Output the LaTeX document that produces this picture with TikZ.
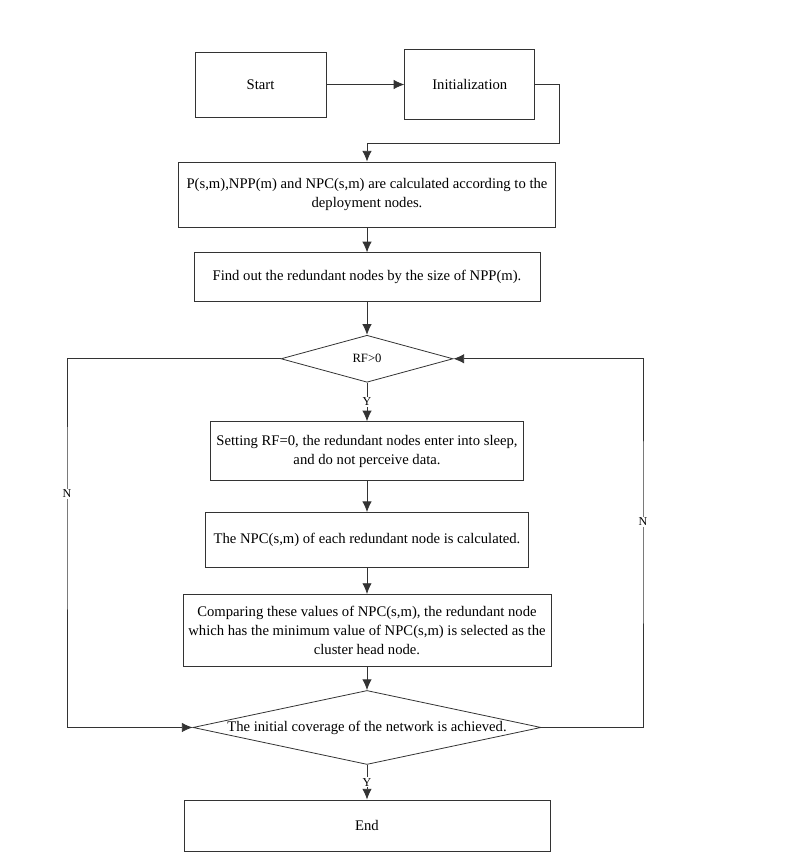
\documentclass[tikz,border=0pt]{standalone}
\usepackage{fontspec}
\setmainfont{Liberation Serif}
\usetikzlibrary{shapes.geometric, arrows.meta, positioning}

\begin{document}
\begin{tikzpicture}[x = 0.75pt, y = -0.75pt, node distance = 18.75pt]
        \tikzstyle{block} = [rectangle, draw = black!80, line width = 0.6pt, align = center, inner sep = 2pt, font = \fontsize{11}{14.5}\selectfont]
        \tikzstyle{decision} = [diamond, draw = black!80, line width = 0.6pt, inner sep = 0pt, font = \fontsize{11}{14.5}\selectfont]
        \tikzstyle{connect} = [-{Latex[length = 8pt, width = 7pt]}, line width = 0.6pt, draw = black!80]
        \tikzstyle{lbl} = [fill = white, inner sep = 1pt, font = \fontsize{9}{10}\selectfont]
        \useasboundingbox (0,0) rectangle (794,860);
        \node[block, minimum width = 98.25pt, minimum height = 48.75pt] (start) at (260.5,84.5) {Start};
        \node[block, minimum width = 97.5pt, minimum height = 52.5pt, right = 58.5pt of start] (init) {Initialization};
        \node[block, minimum width = 282.75pt, minimum height = 48.75pt] (calc) at (367,194.5) {P(s,m),NPP(m) and NPC(s,m) are calculated according to the\\deployment nodes.};
        \node[block, minimum width = 259.5pt, minimum height = 36.75pt, below = 18.75pt of calc] (find) {Find out the redundant nodes by the size of NPP(m).};
        \node[decision, minimum width = 129pt, minimum height = 35.25pt, below = 24.5pt of find] (rf) {\fontsize{9.5}{10}\selectfont RF>0};
        \node[block, minimum width = 234.75pt, minimum height = 44.25pt, below = 29pt of rf] (sleep) {Setting RF=0, the redundant nodes enter into sleep,\\and do not perceive data.};
        \node[block, minimum width = 242.25pt, minimum height = 41.25pt, below = 23.25pt of sleep] (npc) {The NPC(s,m) of each redundant node is calculated.};
        \node[block, minimum width = 276pt, minimum height = 54pt, below = 19.5pt of npc] (cmp) {Comparing these values of NPC(s,m), the redundant node\\which has the minimum value of NPC(s,m) is selected as the\\cluster head node.};
        \node[decision, minimum width = 261pt, minimum height = 55.5pt, below = 17.5pt of cmp] (cov) {\makebox[0pt]{The initial coverage of the network is achieved.}};
        \node[block, minimum width = 274.5pt, minimum height = 38.25pt, below = 26pt of cov] (end) {End};
        \coordinate (turn) at (559,143);
        \coordinate (lft) at (67,494);
        \coordinate (rgt) at (643,522);
        % main flow
        \draw[connect] (start) -- (init);
        \draw[connect] (init.east) -| (turn) -| (calc.north);
        \draw[connect] (calc) -- (find);
        \draw[connect] (find) -- (rf);
        \draw[connect] (rf) -- node[lbl] {Y} (sleep);
        \draw[connect] (sleep) -- (npc);
        \draw[connect] (npc) -- (cmp);
        \draw[connect] (cmp) -- (cov);
        \draw[connect] (cov) -- node[lbl] {Y} (end);
        % loops
        \draw[connect] (rf.west) -| (lft) node[lbl] {N} |- (cov.west);
        \draw[connect] (cov.east) -| (rgt) node[lbl] {N} |- (rf.east);
      \end{tikzpicture}
\end{document}
